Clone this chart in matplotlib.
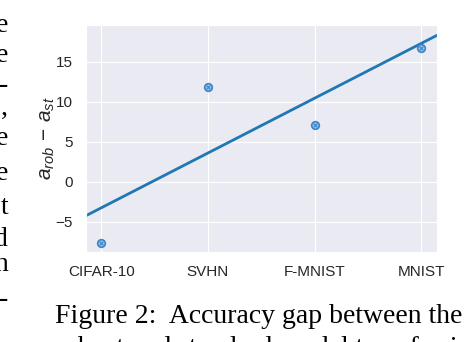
import numpy as np
import matplotlib
matplotlib.use("Agg")
import matplotlib.pyplot as plt
import seaborn as sns

# data
datasets = ["CIFAR-10", "SVHN", "F-MNIST", "MNIST"]
gap = [-7.65, 11.8, 7.15, 16.77]

sns.set_style("darkgrid")
plt.rcParams["font.family"] = ["Liberation Sans", "DejaVu Sans"]
plt.rcParams["mathtext.fontset"] = "custom"
plt.rcParams["mathtext.rm"] = "Liberation Sans"
plt.rcParams["mathtext.it"] = "Liberation Sans:italic"

fig = plt.figure(figsize=(4.74, 3.42), dpi=100)
ax = fig.add_axes([86 / 474, 90 / 342, 351 / 474, 227 / 342])

x = np.arange(len(datasets))
slope, icpt = np.polyfit(x, gap, 1)
xlim = (-0.143, 3.146)
xx = np.array(xlim)
ax.plot(xx, slope * xx + icpt, color="#1f77b4", lw=2)
ax.plot(x, gap, "o", ms=5.5, mfc="#9dc3e6", mec="#3a86c8", mew=1.2)
ax.plot(x, gap, "x", ms=2.5, color="#3a86c8", mew=0.8)

ax.set_xlim(xlim)
ax.set_ylim(-8.8, 19.6)
ax.set_xticks(x)
ax.set_xticklabels(datasets)
ax.set_yticks([-5, 0, 5, 10, 15])
ax.tick_params(labelsize=11, colors="#262626", pad=6)
ax.set_ylabel(r"$a_{rob}\,-\,a_{st}$", fontsize=15, color="#262626", labelpad=-1)

# bits of the surrounding paper page
serif = ["Liberation Serif", "DejaVu Serif"]
left_bits = ["e", "e", "-", ",", "e", "e", "t", "d", "n", "-"]
left_base = [32, 62, 92, 115, 145, 180, 214, 246, 271, 306]
for s, yb in zip(left_bits, left_base):
    fig.text(8 / 474, 1 - yb / 342, s, ha="right", va="baseline",
             family=serif, fontsize=20, color="black")
fig.text(55 / 474, 1 - 323 / 342, "Figure 2:  Accuracy gap between the",
         ha="left", va="baseline", family=serif, fontsize=20, color="black")
fig.text(55 / 474, 1 - 355 / 342, "robust and standard model transferring",
         ha="left", va="baseline", family=serif, fontsize=20, color="black")

fig.savefig("out.png", dpi=100)
